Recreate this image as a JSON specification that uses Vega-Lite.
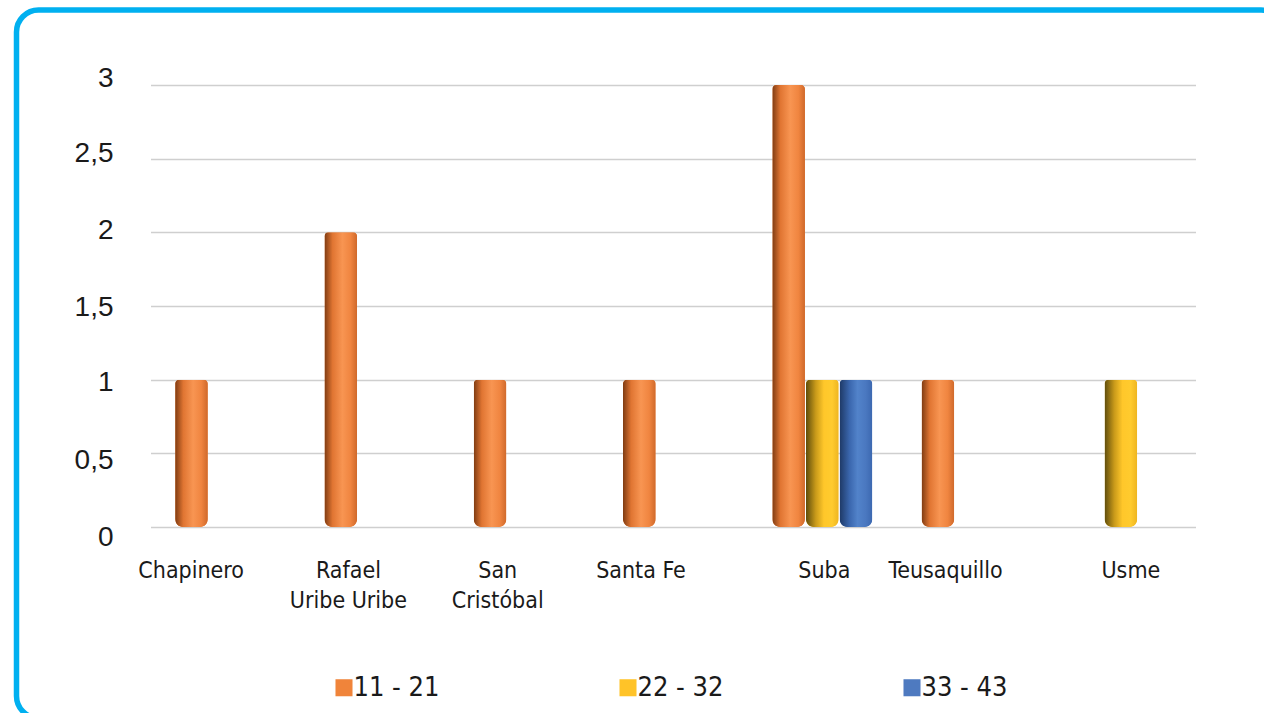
{
  "$schema": "https://vega.github.io/schema/vega-lite/v6.json",
  "autosize": {"type": "none"},
  "width": 1266.5,
  "height": 708,
  "padding": {"left": 16.5, "top": 10, "right": -19, "bottom": -5},
  "background": "white",
  "config": {
    "view": {"stroke": "#00B0F0", "strokeWidth": 5.5, "cornerRadius": 22, "fill": "white"},
    "font": "Liberation Sans"
  },
  "data": {
    "values": [
      {"localidad": "Chapinero", "edad": "11 - 21", "valor": 1},
      {"localidad": "Rafael Uribe Uribe", "edad": "11 - 21", "valor": 2},
      {"localidad": "San Cristóbal", "edad": "11 - 21", "valor": 1},
      {"localidad": "Santa Fe", "edad": "11 - 21", "valor": 1},
      {"localidad": "Suba", "edad": "11 - 21", "valor": 3},
      {"localidad": "Suba", "edad": "22 - 32", "valor": 1},
      {"localidad": "Suba", "edad": "33 - 43", "valor": 1},
      {"localidad": "Teusaquillo", "edad": "11 - 21", "valor": 1},
      {"localidad": "Usme", "edad": "22 - 32", "valor": 1}
    ]
  },
  "encoding": {
    "x": {
      "field": "localidad",
      "type": "nominal",
      "sort": ["Chapinero", "Rafael Uribe Uribe", "San Cristóbal", "Santa Fe", "Suba", "Teusaquillo", "Usme"],
      "scale": {"range": [134, 1179], "paddingInner": 0.33, "paddingOuter": 0.165},
      "axis": {
        "title": null,
        "orient": "bottom",
        "offset": -191,
        "domain": false,
        "ticks": false,
        "grid": false,
        "labelAngle": 0,
        "labelPadding": 32,
        "labelOffset": {
          "condition": [
            {"test": "datum.value == 'Suba'", "value": 2},
            {"test": "datum.value == 'Usme'", "value": 10},
            {"test": "datum.value == 'Chapinero'", "value": -34},
            {"test": "datum.value == 'Santa Fe'", "value": -32}
          ],
          "value": -26
        },
        "labelFont": "DejaVu Sans Condensed, sans-serif",
        "labelFontSize": 23,
        "labelColor": "#1a1a1a",
        "labelLineHeight": 30,
        "labelExpr": "datum.label == 'Rafael Uribe Uribe' ? ['Rafael', 'Uribe Uribe'] : datum.label == 'San Cristóbal' ? ['San', 'Cristóbal'] : datum.label"
      }
    },
    "xOffset": {
      "field": "edad",
      "type": "nominal",
      "sort": ["11 - 21", "22 - 32", "33 - 43"],
      "scale": {"paddingInner": 0.03, "paddingOuter": 0}
    },
    "y": {
      "field": "valor",
      "type": "quantitative",
      "scale": {"domain": [0, 3], "range": [517, 75], "nice": false},
      "axis": {
        "title": null,
        "offset": -96.5,
        "values": [0, 0.5, 1, 1.5, 2, 2.5, 3],
        "domain": false,
        "ticks": false,
        "labelPadding": 0,
        "labelOffset": {
          "condition": [
            {"test": "datum.value == 3", "value": -7},
            {"test": "datum.value == 2.5", "value": -5},
            {"test": "datum.value == 2", "value": -2},
            {"test": "datum.value == 1.5", "value": 1},
            {"test": "datum.value == 1", "value": 3},
            {"test": "datum.value == 0.5", "value": 7}
          ],
          "value": 10
        },
        "labelFontSize": 28,
        "labelColor": "#1a1a1a",
        "labelExpr": "replace(format(datum.value, '~g'), '.', ',')",
        "grid": true,
        "gridColor": "#cfcfcf",
        "gridWidth": 1.5
      }
    }
  },
  "layer": [
    {
      "mark": {"type": "bar", "cornerRadiusTopLeft": 4, "cornerRadiusTopRight": 4, "cornerRadiusBottomLeft": 8, "cornerRadiusBottomRight": 8},
      "encoding": {
        "color": {
          "field": "edad",
          "type": "nominal",
          "scale": {"domain": ["11 - 21", "22 - 32", "33 - 43"], "range": ["#F0843A", "#FFC328", "#4E7AC0"]},
          "legend": {
            "title": null,
            "orient": "none",
            "legendX": 314,
            "legendY": 664,
            "direction": "horizontal",
            "columns": 3,
            "columnPadding": 175,
            "symbolType": "square",
            "symbolSize": 290,
            "symbolStrokeWidth": 0,
            "labelOffset": -4,
            "labelFont": "DejaVu Sans Condensed, sans-serif",
            "labelFontSize": 27,
            "labelColor": "#1a1a1a",
            "labelLimit": 300
          }
        }
      }
    },
    {
      "transform": [{"filter": "datum.edad == '11 - 21'"}],
      "mark": {
        "type": "bar",
        "cornerRadiusTopLeft": 4, "cornerRadiusTopRight": 4, "cornerRadiusBottomLeft": 8, "cornerRadiusBottomRight": 8,
        "color": {"gradient": "linear", "x1": 0, "x2": 1, "y1": 0, "y2": 0,
          "stops": [
            {"offset": 0, "color": "#7e3b12"},
            {"offset": 0.25, "color": "#e07532"},
            {"offset": 0.55, "color": "#f89552"},
            {"offset": 0.8, "color": "#f08540"},
            {"offset": 1, "color": "#cf692b"}
          ]}
      }
    },
    {
      "transform": [{"filter": "datum.edad == '22 - 32'"}],
      "mark": {
        "type": "bar",
        "cornerRadiusTopLeft": 4, "cornerRadiusTopRight": 4, "cornerRadiusBottomLeft": 8, "cornerRadiusBottomRight": 8,
        "color": {"gradient": "linear", "x1": 0, "x2": 1, "y1": 0, "y2": 0,
          "stops": [
            {"offset": 0, "color": "#5e4c0c"},
            {"offset": 0.3, "color": "#c99a1a"},
            {"offset": 0.55, "color": "#ffc72a"},
            {"offset": 0.8, "color": "#ffcb2e"},
            {"offset": 1, "color": "#eeb520"}
          ]}
      }
    },
    {
      "transform": [{"filter": "datum.edad == '33 - 43'"}],
      "mark": {
        "type": "bar",
        "cornerRadiusTopLeft": 4, "cornerRadiusTopRight": 4, "cornerRadiusBottomLeft": 8, "cornerRadiusBottomRight": 8,
        "color": {"gradient": "linear", "x1": 0, "x2": 1, "y1": 0, "y2": 0,
          "stops": [
            {"offset": 0, "color": "#1e3966"},
            {"offset": 0.3, "color": "#3a66ad"},
            {"offset": 0.55, "color": "#5283ca"},
            {"offset": 0.8, "color": "#4a78c0"},
            {"offset": 1, "color": "#3c68b0"}
          ]}
      }
    }
  ]
}
